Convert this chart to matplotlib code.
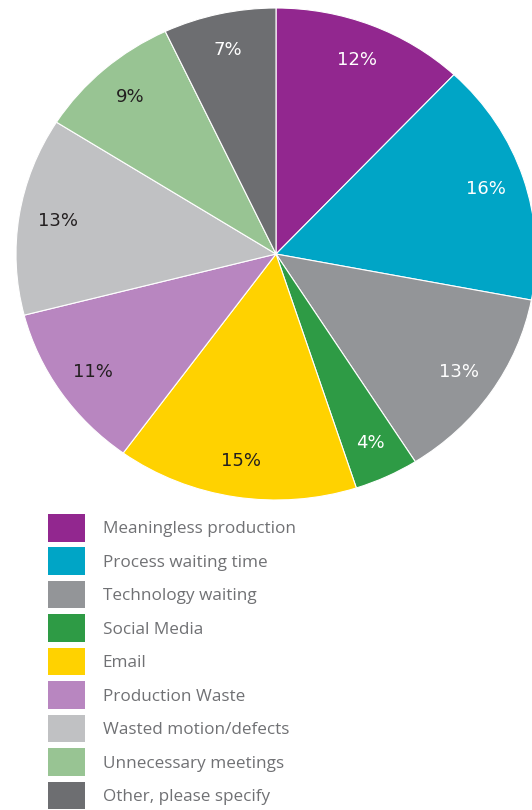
import matplotlib.pyplot as plt

# 数据
labels = ["Meaningless production", "Process waiting time", "Technology waiting",
          "Social Media", "Email", "Production Waste", "Wasted motion/defects",
          "Unnecessary meetings", "Other, please specify"]
values = [12, 16, 13, 4, 15, 11, 13, 9, 7]
colors = ["#92278f", "#00a5c6", "#939598", "#2e9b45", "#ffd200",
          "#b886c0", "#c0c1c3", "#98c493", "#6d6e71"]
label_colors = ["white", "white", "white", "white", "#231f20",
                "#231f20", "#231f20", "#231f20", "white"]

W, H = 532, 810
cx, cy, rx, ry = 276, 254, 260, 246

fig = plt.figure(figsize=(W / 100, H / 100), dpi=100)
ax = fig.add_axes([0, 0, 1, 1])

wedges, texts, autotexts = ax.pie(
    values, colors=colors, startangle=90, counterclock=False,
    autopct="%d%%", pctdistance=0.85,
    wedgeprops={"edgecolor": "white", "linewidth": 0.8},
    textprops={"fontsize": 13, "family": "DejaVu Sans"},
)
for t, c in zip(autotexts, label_colors):
    t.set_color(c)

ax.set_aspect("auto")
ax.set_xlim(-cx / rx, (W - cx) / rx)
ax.set_ylim((cy - H) / ry, cy / ry)
ax.axis("off")

leg = ax.legend(
    wedges, labels, loc="upper left",
    bbox_to_anchor=(48 / W, 1 - 514 / H), bbox_transform=fig.transFigure,
    frameon=False, borderpad=0, borderaxespad=0,
    prop={"family": "Open Sans", "size": 12.3},
    handlelength=2.15, handleheight=2.1, handletextpad=1.05, labelspacing=0.35,
)
for h in leg.legend_handles:
    h.set_edgecolor("none")
for t in leg.get_texts():
    t.set_color("#707174")

fig.savefig("out.png", dpi=100)
